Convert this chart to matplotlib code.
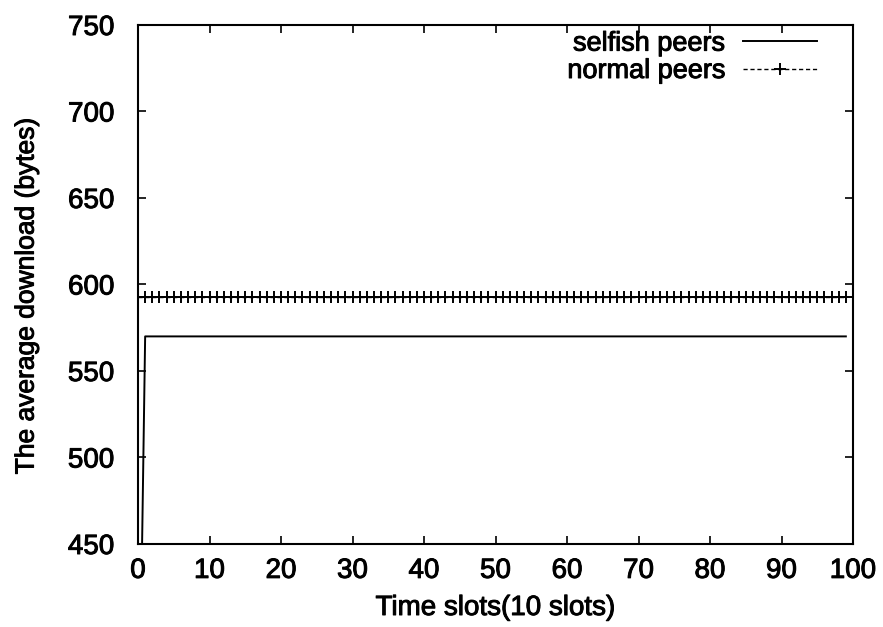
import matplotlib
matplotlib.use("Agg")
import matplotlib.pyplot as plt
import matplotlib.patheffects as pe

plt.rcParams['font.family'] = ['Liberation Sans', 'DejaVu Sans']

time_slots = list(range(100))
selfish_first = 290
selfish_level = 570
normal_level = 593
selfish = [selfish_first] + [selfish_level] * 99
normal = [normal_level] * 100

fig = plt.figure(figsize=(8.83, 6.27), dpi=100)
ax = fig.add_axes([138/883, 1 - 544/627, (853-138)/883, (544-25)/627])

ax.plot(time_slots, selfish, color='black', lw=1.4, label='selfish peers')
ax.plot(time_slots, normal, color='black', lw=1.0, ls=(0, (3, 2)), marker='+',
        markersize=9, markeredgewidth=1.4, label='normal peers')

ax.set_xlim(0, 100)
ax.set_ylim(450, 750)
ax.set_xticks(range(0, 101, 10))
ax.set_yticks(range(450, 751, 50))
ax.tick_params(direction='in', top=True, right=True, length=6, width=1.2,
               labelsize=20)
ax.tick_params(axis='y', pad=17)
ax.tick_params(axis='x', pad=10)
for s in ax.spines.values():
    s.set_linewidth(1.5)

effect = [pe.withStroke(linewidth=0.7, foreground='black')]
ax.set_xlabel('Time slots(10 slots)', fontsize=20, labelpad=8, path_effects=effect)
ax.set_ylabel('The average download (bytes)', fontsize=19, path_effects=effect)
ax.yaxis.set_label_coords(-0.139, 0.478)
for lab in ax.get_xticklabels() + ax.get_yticklabels():
    lab.set_path_effects(effect)

leg = ax.legend(loc='upper right', frameon=False, markerfirst=False, fontsize=19.5,
                handlelength=2.74, borderaxespad=0.0, labelspacing=0.05,
                handletextpad=0.63, bbox_to_anchor=(0.965, 1.01))
for t in leg.get_texts():
    t.set_path_effects(effect)

fig.savefig('out.png', dpi=100)
